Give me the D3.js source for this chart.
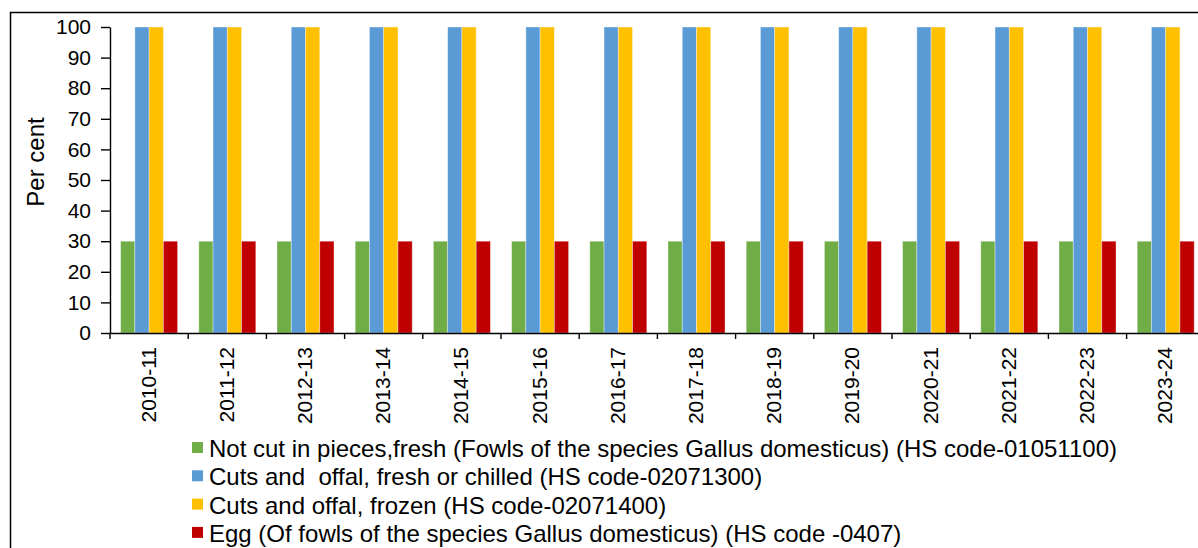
<!DOCTYPE html>
<html>
<head>
<meta charset="utf-8">
<script src="https://cdn.jsdelivr.net/npm/d3@7"></script>
<style>
  html, body { margin: 0; padding: 0; background: #fff; }
  svg { display: block; font-family: "Liberation Sans", Arial, sans-serif; }
</style>
</head>
<body>
<svg id="chart" width="1198" height="548"></svg>
<script>
// Share of duty / tariff (per cent) by product line, 2010-11 to 2023-24
const years = ["2010-11","2011-12","2012-13","2013-14","2014-15","2015-16","2016-17",
               "2017-18","2018-19","2019-20","2020-21","2021-22","2022-23","2023-24"];
const seriesNames = [
  "Not cut in pieces,fresh (Fowls of the species Gallus domesticus) (HS code-01051100)",
  "Cuts and  offal, fresh or chilled (HS code-02071300)",
  "Cuts and offal, frozen (HS code-02071400)",
  "Egg (Of fowls of the species Gallus domesticus) (HS code -0407)"
];
const notCutFresh   = [30,30,30,30,30,30,30,30,30,30,30,30,30,30];
const cutsChilled   = [100,100,100,100,100,100,100,100,100,100,100,100,100,100];
const cutsFrozen    = [100,100,100,100,100,100,100,100,100,100,100,100,100,100];
const eggs          = [30,30,30,30,30,30,30,30,30,30,30,30,30,30];
const yTicks = [0,10,20,30,40,50,60,70,80,90,100];
const colors = ["#70AD47","#5B9BD5","#FFC000","#C00000"];

const seriesValues = [notCutFresh, cutsChilled, cutsFrozen, eggs];

const svg = d3.select("#chart");

// outer frame
svg.append("rect")
  .attr("x", 10.5).attr("y", 12.5)
  .attr("width", 1240).attr("height", 600)
  .attr("fill", "none").attr("stroke", "#000").attr("stroke-width", 1.5);

const plot = { left: 110, top: 27, bottom: 333, right: 110 + 14 * 78.2 };

const x0 = d3.scaleBand().domain(years).range([plot.left, plot.right])
  .paddingInner(0).paddingOuter(0);
// inner band: gap equals 150% of a bar width
const inner = 0.1355;
const x1 = d3.scaleBand().domain(d3.range(4))
  .range([x0.bandwidth() * inner, x0.bandwidth() * (1 - inner)]).padding(0);
const y = d3.scaleLinear().domain([0, 100]).range([plot.bottom, plot.top]);

// bars
const groups = svg.append("g").selectAll("g")
  .data(years)
  .join("g")
  .attr("transform", d => `translate(${x0(d)},0)`);

groups.selectAll("rect")
  .data((d, i) => seriesValues.map((vals, s) => ({ s, v: vals[i] })))
  .join("rect")
  .attr("x", d => x1(d.s))
  .attr("width", x1.bandwidth())
  .attr("y", d => y(d.v))
  .attr("height", d => y(0) - y(d.v))
  .attr("fill", d => colors[d.s])
  .attr("stroke", "rgba(255,255,255,0.45)")
  .attr("stroke-width", 0.8);

// y axis
const yAxis = svg.append("g")
  .attr("transform", `translate(${plot.left},0)`)
  .call(d3.axisLeft(y).tickValues(yTicks).tickSize(9).tickPadding(10).tickSizeOuter(0));
yAxis.select(".domain").attr("stroke", "#000").attr("stroke-width", 1.4);
yAxis.selectAll(".tick line").attr("stroke", "#000").attr("stroke-width", 1.4);
yAxis.selectAll(".tick text")
  .attr("font-size", 21).attr("fill", "#000")
  .attr("font-family", "Liberation Sans, Arial, sans-serif");

// x axis
const xAxis = svg.append("g")
  .attr("transform", `translate(0,${plot.bottom})`)
  .call(d3.axisBottom(x0).tickSize(0).tickSizeOuter(0));
xAxis.select(".domain").attr("stroke", "#000").attr("stroke-width", 1.4);
xAxis.selectAll(".tick text").remove();

// category boundary ticks
xAxis.selectAll("line.bound")
  .data(d3.range(years.length + 1))
  .join("line")
  .attr("class", "bound")
  .attr("x1", i => plot.left + i * x0.step())
  .attr("x2", i => plot.left + i * x0.step())
  .attr("y1", 0).attr("y2", 6)
  .attr("stroke", "#000").attr("stroke-width", 1.4);

// rotated category labels
svg.append("g").selectAll("text")
  .data(years)
  .join("text")
  .attr("transform", d => `translate(${x0(d) + x0.bandwidth() / 2 - 1},347) rotate(-90)`)
  .attr("text-anchor", "end")
  .attr("dominant-baseline", "central")
  .attr("font-size", 21)
  .attr("fill", "#000")
  .text(d => d);

// y axis title
svg.append("text")
  .attr("transform", `translate(35,162) rotate(-90)`)
  .attr("text-anchor", "middle")
  .attr("dominant-baseline", "central")
  .attr("font-size", 24)
  .attr("fill", "#000")
  .text("Per cent");

// legend
const legend = svg.append("g").selectAll("g")
  .data(seriesNames)
  .join("g")
  .attr("transform", (d, i) => `translate(192,${447.5 + i * 28.3})`);
legend.append("rect")
  .attr("x", 0).attr("y", -5.5)
  .attr("width", 11).attr("height", 11)
  .attr("fill", (d, i) => colors[i]);
legend.append("text")
  .attr("x", 17).attr("y", 1)
  .attr("dominant-baseline", "central")
  .attr("font-size", 24)
  .attr("fill", "#000")
  .attr("xml:space", "preserve")
  .style("white-space", "pre")
  .text(d => d);
</script>
</body>
</html>
